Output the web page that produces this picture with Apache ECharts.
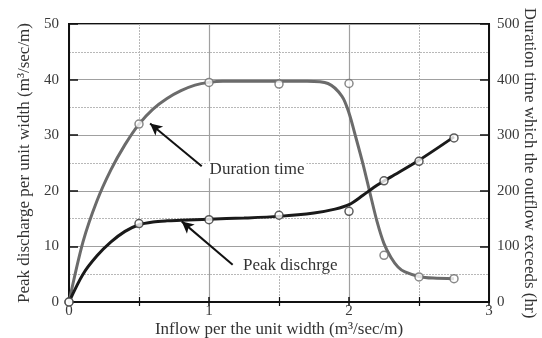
<!DOCTYPE html>
<html><head><meta charset="utf-8">
<script src="https://cdn.jsdelivr.net/npm/echarts@6/dist/echarts.min.js"></script>
<style>html,body{margin:0;padding:0;background:#fff}#c{width:542px;height:338px}</style>
</head><body><div id="c"></div>
<script>
// Measured points (open circles)
var ptX = [0, 0.5, 1, 1.5, 2, 2.25, 2.5, 2.75];
var peakPts = [0, 14.1, 14.8, 15.6, 16.3, 21.8, 25.3, 29.5];        // m3/sec/m (left axis)
var durPts = [0, 320, 395, 392, 393, 84, 45, 42];                  // hr (right axis)
// Fitted curves
var peakCurveX = [0, 0.1, 0.2, 0.3, 0.4, 0.5, 0.6, 0.7, 0.8, 1.0, 1.25, 1.5, 1.75, 1.9, 2.0, 2.1, 2.2, 2.3, 2.5, 2.75];
var peakCurveY = [0, 5.0, 8.3, 10.8, 12.7, 13.9, 14.4, 14.6, 14.7, 14.9, 15.1, 15.4, 16.0, 16.7, 17.5, 19.2, 21.0, 22.5, 25.5, 29.7];
var durCurveX = [0, 0.1, 0.2, 0.3, 0.4, 0.5, 0.6, 0.7, 0.8, 0.9, 1.0, 1.1, 1.4, 1.7, 1.85, 1.95, 2.0, 2.05, 2.1, 2.15, 2.2, 2.25, 2.3, 2.35, 2.4, 2.5, 2.6, 2.75];
var durCurveY = [0, 108, 182, 238, 283, 320, 347, 366, 380, 390, 395, 397, 397, 397, 393, 370, 340, 295, 248, 196, 145, 105, 80, 63, 54, 46, 43, 42];
// Annotations (data coords, left axis)
var durArrow = [[0.948, 24.4], [0.579, 32.1]];
var peakArrow = [[1.169, 6.7], [0.805, 14.5]];
var durLabel = {text: 'Duration time', x: 0.99, y: 23.8};
var peakLabel = {text: 'Peak dischrge', x: 1.229, y: 6.5};

var FONT = '"Liberation Serif", "Times New Roman", serif';
function zip(a, b) { return a.map(function (v, i) { return [v, b[i]]; }); }

var chart = echarts.init(document.getElementById('c'));
var gridLine = {show: true, lineStyle: {color: '#a0a0a0', width: 1.2, type: 'solid'}};
var minorLine = {show: true, lineStyle: {color: '#b8b8b8', width: 1, type: [2, 1]}};
var labelStyle = {color: '#3a3a3a', fontFamily: FONT, fontSize: 15};
var nameStyle = {color: '#333', fontFamily: FONT, fontSize: 17};

chart.setOption({
  animation: false,
  backgroundColor: '#fff',
  grid: {left: 69, right: 53, top: 24, bottom: 36, containLabel: false, outerBoundsMode: 'none',
         show: true, borderColor: '#111', borderWidth: 2, backgroundColor: 'transparent'},
  xAxis: [{
    type: 'value', min: 0, max: 3, interval: 1, position: 'bottom',
    name: 'Inflow per the unit width (m\u00b3/sec/m)', nameLocation: 'middle', nameGap: 19, nameMoveOverlap: false,
    nameTextStyle: nameStyle,
    axisLine: {show: true, onZero: false, lineStyle: {color: '#111', width: 2}},
    axisTick: {show: true, inside: true, length: 5, lineStyle: {color: '#111', width: 1.5}},
    minorTick: {show: true, splitNumber: 2, length: 5, lineStyle: {color: '#111', width: 1.2}},
    axisLabel: Object.assign({margin: 2}, labelStyle),
    splitLine: gridLine, minorSplitLine: minorLine
  }, {
    type: 'value', min: 0, max: 3, interval: 1, position: 'top',
    axisLine: {show: true, lineStyle: {color: '#111', width: 2}},
    axisTick: {show: true, inside: true, length: 4, lineStyle: {color: '#111', width: 1.5}},
    minorTick: {show: true, splitNumber: 2, length: 4, lineStyle: {color: '#111', width: 1.2}},
    axisLabel: {show: false}, splitLine: {show: false}
  }],
  yAxis: [{
    type: 'value', min: 0, max: 50, interval: 10, position: 'left',
    name: 'Peak discharge per unit width (m\u00b3/sec/m)', nameLocation: 'middle', nameGap: 36, nameMoveOverlap: false,
    nameTextStyle: nameStyle,
    axisLine: {show: true, onZero: false, lineStyle: {color: '#111', width: 2}},
    axisTick: {show: true, inside: true, length: 9, lineStyle: {color: '#111', width: 1.5}},
    minorTick: {show: false, splitNumber: 2},
    axisLabel: Object.assign({margin: 10}, labelStyle),
    splitLine: gridLine, minorSplitLine: minorLine
  }, {
    type: 'value', min: 0, max: 500, interval: 100, position: 'right',
    name: 'Duration time which the outflow exceeds (hr)', nameLocation: 'middle', nameGap: 32, nameRotate: -90,
    nameMoveOverlap: false,
    nameTextStyle: nameStyle,
    axisLine: {show: true, onZero: false, lineStyle: {color: '#111', width: 2}},
    axisTick: {show: true, inside: true, length: 9, lineStyle: {color: '#111', width: 1.5}},
    axisLabel: Object.assign({margin: 8}, labelStyle),
    splitLine: {show: false}
  }],
  series: [
    {type: 'line', name: 'durCurve', yAxisIndex: 1, data: zip(durCurveX, durCurveY), smooth: 0.3,
     showSymbol: false, symbol: 'none', lineStyle: {color: '#6b6b6b', width: 3}, z: 3},
    {type: 'line', name: 'peakCurve', yAxisIndex: 0, data: zip(peakCurveX, peakCurveY), smooth: 0.3,
     showSymbol: false, symbol: 'none', lineStyle: {color: '#1a1a1a', width: 3}, z: 4},
    {type: 'scatter', name: 'durPts', yAxisIndex: 1, data: zip(ptX, durPts), symbol: 'circle', symbolSize: 8,
     itemStyle: {color: '#fff', borderColor: '#6b6b6b', borderWidth: 1.5}, z: 5},
    {type: 'scatter', name: 'peakPts', yAxisIndex: 0, data: zip(ptX, peakPts), symbol: 'circle', symbolSize: 8,
     itemStyle: {color: '#fff', borderColor: '#333', borderWidth: 1.5}, z: 6},
    {type: 'line', yAxisIndex: 0, data: [], silent: true,
     markLine: {silent: true, animation: false, symbol: ['none', 'arrow'], symbolSize: [9, 12],
       label: {show: false},
       lineStyle: {color: '#111', width: 2, type: 'solid'},
       data: [
         [{coord: durArrow[0]}, {coord: durArrow[1]}],
         [{coord: peakArrow[0]}, {coord: peakArrow[1]}]
       ]}, z: 7}
  ]
});

function placeLabels() {
  var items = [durLabel, peakLabel].map(function (l) {
    var p = chart.convertToPixel({xAxisIndex: 0, yAxisIndex: 0}, [l.x, l.y]);
    return {type: 'text', x: p[0], y: p[1], z: 100,
      style: {text: l.text, fill: '#333', font: '17px ' + FONT, verticalAlign: 'middle',
        backgroundColor: '#fff', padding: [0, 2]}};
  });
  chart.setOption({graphic: items});
}
placeLabels();
</script></body></html>
